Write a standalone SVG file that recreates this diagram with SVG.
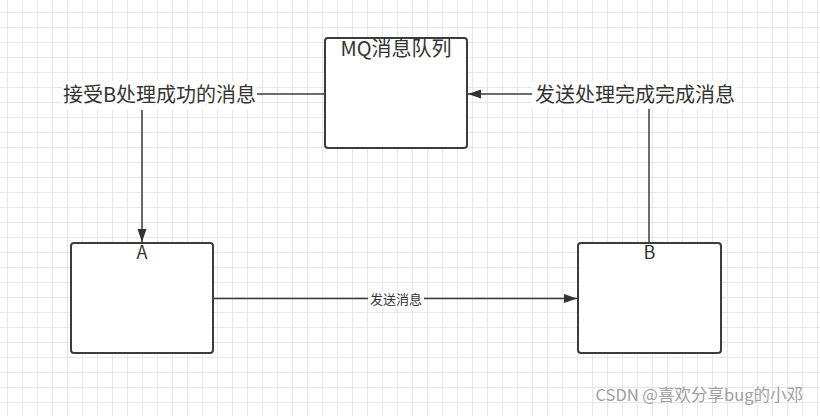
<svg xmlns="http://www.w3.org/2000/svg" width="820" height="416" viewBox="0 0 820 416">
  <defs>
    <pattern id="grid" x="7" y="12" width="15" height="15" patternUnits="userSpaceOnUse">
      <path d="M0.5,0 V15 M0,0.5 H15" fill="none" stroke="#e6e6e6" stroke-width="1"/>
    </pattern>
    <marker id="arrow" viewBox="0 0 13 9" refX="13" refY="4.5" markerWidth="13" markerHeight="9" markerUnits="userSpaceOnUse" orient="auto">
      <path d="M0,0 L13,4.5 L0,9 z" fill="#333"/>
    </marker>
    <style>
      .box { fill: #ffffff; stroke: #3c3c3c; stroke-width: 2; }
      .edge { fill: none; stroke: #3c3c3c; stroke-width: 1.5; }
      .lbl-bg { fill: #ffffff; }
      text { font-family: "Noto Sans CJK SC", "Microsoft YaHei", "Liberation Sans", sans-serif; fill: #333333; }
      .big { font-size: 20px; }
      .node-title { font-size: 18px; text-anchor: middle; }
      .small { font-size: 13px; text-anchor: middle; }
    </style>
  </defs>

  <rect x="0" y="0" width="820" height="416" fill="#ffffff"/>
  <rect x="0" y="0" width="820" height="416" fill="url(#grid)"/>

  <g id="connectors">
    <path class="edge" d="M325,94 H142 V242" marker-end="url(#arrow)"/>
    <path class="edge" d="M649,243 V94 H468" marker-end="url(#arrow)"/>
    <path class="edge" d="M213,298.5 H577" marker-end="url(#arrow)"/>
    <rect class="lbl-bg" x="62" y="81" width="195" height="29"/>
    <text class="big" x="159.5" y="102" text-anchor="middle">接受B处理成功的消息</text>
    <rect class="lbl-bg" x="532" y="81" width="205" height="28"/>
    <text class="big" x="635" y="102" text-anchor="middle">发送处理完成完成消息</text>
    <rect class="lbl-bg" x="368" y="291" width="56" height="16"/>
    <text class="small" x="396" y="304">发送消息</text>
  </g>

  <g id="mq">
    <rect class="box" x="325" y="38" width="142" height="110" rx="3" ry="3"/>
    <text class="big" x="396" y="55.5" text-anchor="middle">MQ消息队列</text>
  </g>

  <g id="a">
    <rect class="box" x="71" y="243" width="142" height="110" rx="3" ry="3"/>
    <text class="node-title" x="142" y="258.5">A</text>
  </g>

  <g id="b">
    <rect class="box" x="578" y="243" width="143" height="110" rx="3" ry="3"/>
    <text class="node-title" x="649.5" y="258.5">B</text>
  </g>

  <text x="803" y="401" font-size="16.5" text-anchor="end" style="fill:#a0a0a0">CSDN @喜欢分享bug的小邓</text>
</svg>
